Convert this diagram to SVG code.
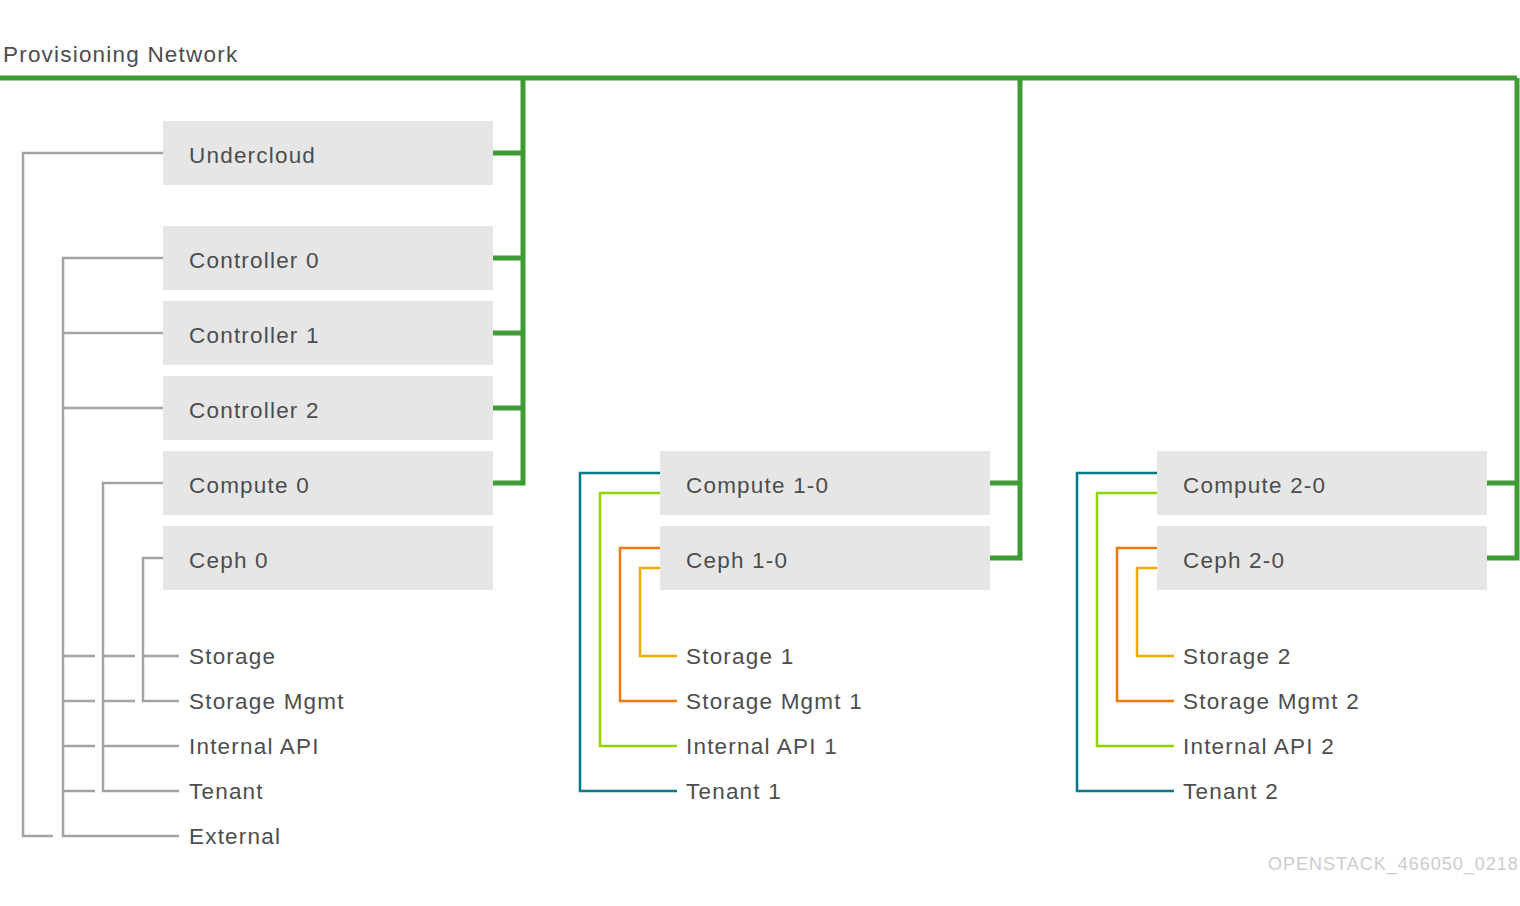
<svg xmlns="http://www.w3.org/2000/svg" width="1520" height="906" viewBox="0 0 1520 906">
<style>
.box{fill:#e6e6e6}
.t{font-family:"Liberation Sans",Arial,sans-serif;font-size:22.5px;letter-spacing:1.2px;fill:#4d4d4d}
.wm{font-family:"Liberation Sans",Arial,sans-serif;font-size:18px;letter-spacing:1px;fill:#cccccc}
.g{fill:none;stroke:#3f9c35;stroke-width:5}
.gr{fill:none;stroke:#a3a3a3;stroke-width:2.5}
.teal{fill:none;stroke:#007a87;stroke-width:2.5}
.lime{fill:none;stroke:#92d400;stroke-width:2.5}
.org{fill:none;stroke:#ec7a08;stroke-width:2.5}
.gold{fill:none;stroke:#f0ab00;stroke-width:2.5}
</style>
<rect width="1520" height="906" fill="#ffffff"/>
<text class="t" x="3" y="62">Provisioning Network</text>
<g id="connectors">
  <path class="g" d="M0 78H1517M523 78V483H493M493 408H523M493 333H523M493 258H523M493 153H523"/>
  <path class="g" d="M1020 78V558H990M990 483H1020"/>
  <path class="g" d="M1517 78V558H1487M1487 483H1517"/>
  <path class="gr" d="M163 153H23V836H53"/>
  <path class="gr" d="M163 258H63V836H179M163 333H63M163 408H63M63 656H95M63 701H95M63 746H95M63 791H95"/>
  <path class="gr" d="M163 483H103V791H179M103 746H179M103 656H135M103 701H135"/>
  <path class="gr" d="M163 558H143V701H179M143 656H179"/>
  <path class="teal" d="M660 473H580V791H677"/>
  <path class="lime" d="M660 493H600V746H677"/>
  <path class="org" d="M660 548H620V701H677"/>
  <path class="gold" d="M660 568H640V656H677"/>
  <path class="teal" d="M1157 473H1077V791H1174"/>
  <path class="lime" d="M1157 493H1097V746H1174"/>
  <path class="org" d="M1157 548H1117V701H1174"/>
  <path class="gold" d="M1157 568H1137V656H1174"/>
</g>
<g id="undercloud"><rect class="box" x="163" y="121" width="330" height="64"/><text class="t" x="189" y="163">Undercloud</text></g>
<g id="controller0"><rect class="box" x="163" y="226" width="330" height="64"/><text class="t" x="189" y="268">Controller 0</text></g>
<g id="controller1"><rect class="box" x="163" y="301" width="330" height="64"/><text class="t" x="189" y="343">Controller 1</text></g>
<g id="controller2"><rect class="box" x="163" y="376" width="330" height="64"/><text class="t" x="189" y="418">Controller 2</text></g>
<g id="compute0"><rect class="box" x="163" y="451" width="330" height="64"/><text class="t" x="189" y="493">Compute 0</text></g>
<g id="ceph0"><rect class="box" x="163" y="526" width="330" height="64"/><text class="t" x="189" y="568">Ceph 0</text></g>
<g id="compute1-0"><rect class="box" x="660" y="451" width="330" height="64"/><text class="t" x="686" y="493">Compute 1-0</text></g>
<g id="ceph1-0"><rect class="box" x="660" y="526" width="330" height="64"/><text class="t" x="686" y="568">Ceph 1-0</text></g>
<g id="compute2-0"><rect class="box" x="1157" y="451" width="330" height="64"/><text class="t" x="1183" y="493">Compute 2-0</text></g>
<g id="ceph2-0"><rect class="box" x="1157" y="526" width="330" height="64"/><text class="t" x="1183" y="568">Ceph 2-0</text></g>
<g id="net0">
  <text class="t" x="189" y="664">Storage</text>
  <text class="t" x="189" y="709">Storage Mgmt</text>
  <text class="t" x="189" y="754">Internal API</text>
  <text class="t" x="189" y="799">Tenant</text>
  <text class="t" x="189" y="844">External</text>
</g>
<g id="net1">
  <text class="t" x="686" y="664">Storage 1</text>
  <text class="t" x="686" y="709">Storage Mgmt 1</text>
  <text class="t" x="686" y="754">Internal API 1</text>
  <text class="t" x="686" y="799">Tenant 1</text>
</g>
<g id="net2">
  <text class="t" x="1183" y="664">Storage 2</text>
  <text class="t" x="1183" y="709">Storage Mgmt 2</text>
  <text class="t" x="1183" y="754">Internal API 2</text>
  <text class="t" x="1183" y="799">Tenant 2</text>
</g>
<text class="wm" x="1268" y="870">OPENSTACK_466050_0218</text>
</svg>
